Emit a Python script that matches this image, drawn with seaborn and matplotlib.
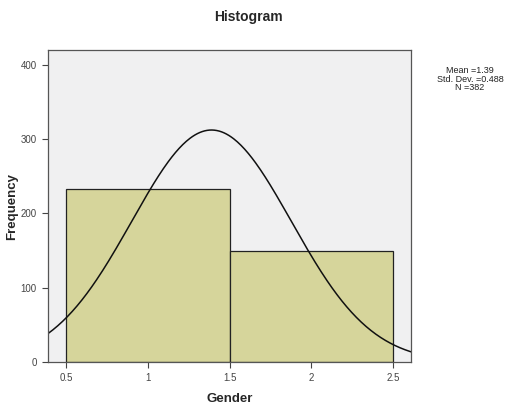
import numpy as np
import pandas as pd
import matplotlib
matplotlib.use("Agg")
import matplotlib.pyplot as plt
import seaborn as sns

# Data
gender_values = [1, 2]
counts = [233, 149]
bin_edges = [0.5, 1.5, 2.5]
mean_val = 1.39
std_val = 0.488
n_val = 382
x_ticks = [0.5, 1, 1.5, 2, 2.5]
y_ticks = [0, 100, 200, 300, 400]

sns.set_style("white")
plt.rcParams['font.family'] = ['Liberation Sans', 'DejaVu Sans']

fig = plt.figure(figsize=(5.13, 4.04), dpi=100)
fig.patch.set_facecolor("white")
ax = fig.add_axes([48/513, 42/404, (411-48)/513, (362-50)/404])
ax.set_facecolor("#f0f0f1")

df = pd.DataFrame({"Gender": gender_values, "count": counts})
sns.histplot(data=df, x="Gender", weights="count", bins=bin_edges, ax=ax,
             color="#d6d59b", alpha=1.0, edgecolor="#222222", linewidth=0.9)

xs = np.linspace(0.39, 2.61, 300)
ys = n_val * 1.0 / (std_val * np.sqrt(2 * np.pi)) * np.exp(-0.5 * ((xs - mean_val) / std_val) ** 2)
sns.lineplot(x=xs, y=ys, ax=ax, color="#111111", linewidth=1.1)

ax.set_xlim(0.39, 2.61)
ax.set_ylim(0, 420)
ax.set_xticks(x_ticks)
ax.set_xticklabels(["0.5", "1", "1.5", "2", "2.5"])
ax.set_yticks(y_ticks)
ax.tick_params(axis="both", labelsize=7, colors="#444444", length=4, width=0.8,
               direction="out", bottom=True, left=True, pad=4)
for s in ax.spines.values():
    s.set_color("#555555")
    s.set_linewidth(0.9)

ax.set_xlabel("Gender", fontsize=9.5, fontweight="bold", labelpad=7)
ax.set_ylabel("Frequency", fontsize=9.5, fontweight="bold", labelpad=2)
fig.text(248/513, 1 - 17/404, "Histogram", ha="center", va="center", fontsize=10, fontweight="bold")
fig.text(470/513, 1 - 79/404, "Mean =1.39\nStd. Dev. =0.488\nN =382", ha="center", va="center",
         fontsize=6.5, linespacing=0.95, color="#222222")

fig.savefig("out.png", dpi=100)
